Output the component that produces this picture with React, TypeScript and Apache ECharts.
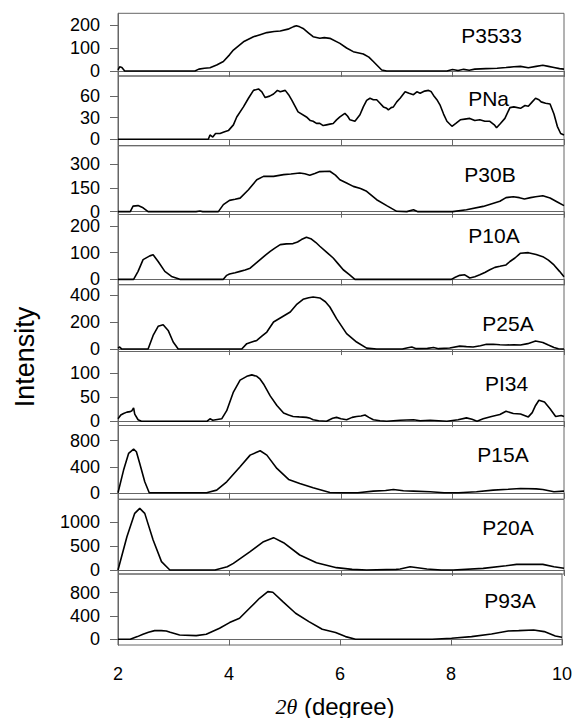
import React, { useEffect, useRef } from 'react';
import * as echarts from 'echarts';

// ---------- data ----------
const panelNames = ['P3533', 'PNa', 'P30B', 'P10A', 'P25A', 'PI34', 'P15A', 'P20A', 'P93A'];
const xTickLabels = [2, 4, 6, 8, 10];
const yTickValues = [
  [0, 100, 200],
  [0, 30, 60],
  [0, 150, 300],
  [0, 100, 200],
  [0, 200, 400],
  [0, 50, 100],
  [0, 400, 800],
  [0, 500, 1000],
  [0, 400, 800],
];
const yMins = [-22, -9, -18, -20, -18, -9, -100, -83, -98];
const yMaxs = [251, 88, 415, 243, 476, 146, 1034, 1473, 1121];

const p3533: [number, number][] = [
  [2.0, 5], [2.03, 18], [2.07, 15], [2.12, 0], [3.38, 0], [3.45, 8], [3.55, 12], [3.65, 14], [3.77, 26],
  [3.89, 41], [4.0, 70], [4.07, 91], [4.25, 127], [4.43, 149], [4.55, 158], [4.67, 167], [4.8, 172],
  [4.91, 174], [5.05, 182], [5.15, 193], [5.2, 197], [5.26, 192], [5.32, 185], [5.42, 165], [5.5, 149],
  [5.62, 142], [5.7, 145], [5.8, 142], [5.98, 120], [6.1, 100], [6.22, 84], [6.4, 74], [6.5, 60],
  [6.58, 41], [6.73, 4], [6.82, 0], [7.4, 0], [7.9, 0], [8.0, 6], [8.1, 2], [8.2, 7], [8.3, 3], [8.4, 8],
  [8.6, 10], [8.8, 12], [8.96, 15], [9.1, 18], [9.22, 20], [9.36, 14], [9.5, 20], [9.62, 25], [9.72, 20],
  [9.82, 15], [9.92, 10], [10, 8],
];
const pNa: [number, number][] = [
  [2, 0], [3.62, 0], [3.65, 6], [3.7, 3], [3.75, 8], [3.83, 8], [3.9, 10], [3.98, 12], [4.07, 20], [4.13, 31],
  [4.25, 45], [4.34, 57], [4.43, 68], [4.52, 70], [4.58, 66], [4.64, 58], [4.72, 60], [4.79, 63], [4.86, 68],
  [4.91, 66], [5.0, 68], [5.06, 62], [5.12, 54], [5.23, 38], [5.38, 31], [5.45, 26], [5.5, 25], [5.56, 22],
  [5.62, 22], [5.68, 19], [5.74, 20], [5.8, 21], [5.86, 22], [5.92, 27], [5.98, 31], [6.07, 36], [6.12, 32],
  [6.16, 27], [6.25, 25], [6.34, 34], [6.4, 45], [6.46, 54], [6.52, 57], [6.58, 55], [6.64, 55], [6.7, 50],
  [6.76, 45], [6.82, 43], [6.85, 41], [6.9, 44], [6.94, 45], [7.0, 52], [7.06, 57], [7.15, 66], [7.22, 64],
  [7.3, 62], [7.36, 66], [7.42, 64], [7.5, 67], [7.57, 68], [7.62, 66], [7.66, 61], [7.72, 55], [7.78, 47],
  [7.84, 35], [7.9, 25], [7.99, 18], [8.06, 22], [8.14, 27], [8.22, 28], [8.31, 29], [8.4, 26], [8.49, 27],
  [8.58, 25], [8.67, 25], [8.75, 20], [8.79, 16], [8.86, 22], [8.94, 29], [9.03, 44], [9.1, 45], [9.22, 43],
  [9.3, 47], [9.36, 46], [9.43, 52], [9.49, 57], [9.55, 55], [9.59, 52], [9.67, 50], [9.75, 49], [9.82, 35],
  [9.88, 18], [9.94, 8], [10, 6],
];
const p30B: [number, number][] = [
  [2, 0], [2.22, 0], [2.27, 35], [2.36, 38], [2.45, 24], [2.54, 0], [3.4, 0], [3.47, 4], [3.52, 0], [3.8, 0],
  [3.89, 44], [4.0, 71], [4.1, 78], [4.19, 85], [4.34, 138], [4.49, 201], [4.61, 222], [4.79, 222], [4.97, 233],
  [5.1, 237], [5.26, 243], [5.35, 238], [5.44, 229], [5.53, 240], [5.62, 252], [5.8, 254], [5.9, 230],
  [5.98, 201], [6.1, 180], [6.22, 159], [6.35, 145], [6.46, 128], [6.64, 75], [6.82, 38], [7.0, 2], [7.18, 0],
  [7.3, 12], [7.38, 0], [8.0, 0], [8.25, 12], [8.55, 33], [8.85, 65], [8.96, 88], [9.09, 94], [9.2, 88],
  [9.29, 80], [9.4, 88], [9.49, 94], [9.62, 100], [9.75, 86], [9.88, 61], [10, 38],
];
const p10A: [number, number][] = [
  [2, 0], [2.28, 0], [2.36, 30], [2.45, 74], [2.57, 88], [2.63, 92], [2.72, 67], [2.84, 30], [2.96, 11],
  [3.11, 0], [3.89, 0], [3.95, 15], [4.0, 20], [4.1, 25], [4.19, 30], [4.28, 35], [4.37, 42], [4.46, 58],
  [4.55, 74], [4.64, 90], [4.73, 105], [4.82, 118], [4.91, 130], [5.02, 133], [5.14, 134], [5.22, 140],
  [5.29, 149], [5.38, 158], [5.47, 151], [5.55, 138], [5.62, 124], [5.74, 102], [5.86, 80], [5.95, 58],
  [6.04, 36], [6.15, 18], [6.25, 0], [7.98, 0], [8.05, 8], [8.13, 15], [8.22, 17], [8.31, 5], [8.4, 10],
  [8.49, 17], [8.58, 26], [8.67, 36], [8.76, 45], [8.85, 49], [8.96, 54], [9.03, 67], [9.12, 80], [9.22, 98],
  [9.36, 100], [9.5, 93], [9.62, 85], [9.72, 72], [9.82, 54], [9.92, 30], [10, 10],
];
const p25A: [number, number][] = [
  [2, 8], [2.03, 15], [2.07, 0], [2.54, 0], [2.63, 101], [2.72, 168], [2.81, 180], [2.9, 138], [2.99, 52],
  [3.08, 0], [4.22, 0], [4.31, 40], [4.4, 52], [4.49, 64], [4.58, 95], [4.67, 126], [4.79, 200], [4.94, 237],
  [5.09, 274], [5.2, 328], [5.32, 368], [5.42, 380], [5.5, 385], [5.62, 378], [5.72, 350], [5.8, 311],
  [5.92, 225], [6.1, 114], [6.28, 52], [6.46, 7], [6.64, 0], [7.1, 0], [7.2, 10], [7.27, 15], [7.35, 3],
  [7.55, 5], [7.66, 12], [7.75, 3], [7.95, 8], [8.13, 22], [8.25, 18], [8.37, 15], [8.5, 25], [8.61, 35],
  [8.73, 36], [8.85, 32], [8.96, 30], [9.1, 32], [9.22, 30], [9.35, 40], [9.49, 59], [9.62, 49], [9.72, 30],
  [9.82, 12], [9.9, 2], [10, 0],
];
const pI34: [number, number][] = [
  [2, 5], [2.05, 13], [2.1, 16], [2.16, 19], [2.22, 20], [2.25, 22], [2.28, 28], [2.3, 15], [2.36, 3],
  [2.42, 0], [3.6, 0], [3.65, 5], [3.7, 2], [3.86, 5], [3.95, 22], [4.07, 61], [4.19, 86], [4.31, 94],
  [4.4, 97], [4.49, 94], [4.55, 88], [4.61, 78], [4.73, 53], [4.85, 33], [4.97, 17], [5.06, 13], [5.14, 10],
  [5.25, 9], [5.38, 8], [5.45, 6], [5.5, 3], [5.6, 1], [5.74, 0], [5.85, 6], [5.92, 8], [6.0, 5], [6.1, 3],
  [6.2, 8], [6.28, 10], [6.36, 11], [6.43, 13], [6.5, 8], [6.58, 3], [6.7, 1], [6.82, 0], [7.06, 2], [7.3, 3],
  [7.42, 1], [7.6, 2], [7.9, 0], [8.1, 3], [8.25, 7], [8.35, 4], [8.44, 0], [8.55, 5], [8.7, 10], [8.85, 14],
  [8.96, 21], [9.09, 16], [9.22, 15], [9.36, 9], [9.43, 18], [9.49, 33], [9.55, 44], [9.65, 40], [9.75, 26],
  [9.85, 10], [9.95, 12], [10, 10],
];
const p15A: [number, number][] = [
  [2, 0], [2.1, 349], [2.19, 605], [2.28, 672], [2.33, 631], [2.39, 451], [2.48, 169], [2.56, 0], [3.59, 0],
  [3.77, 41], [3.95, 169], [4.19, 400], [4.37, 579], [4.55, 646], [4.67, 579], [4.85, 374], [5.06, 205],
  [5.26, 144], [5.5, 77], [5.8, 5], [6.0, 0], [6.3, 0], [6.58, 26], [6.8, 35], [6.94, 51], [7.12, 31],
  [7.3, 26], [7.6, 15], [7.85, 0], [8.11, 0], [8.43, 15], [8.73, 41], [9.0, 55], [9.22, 67], [9.5, 60],
  [9.62, 51], [9.82, 15], [10, 26],
];
const p20A: [number, number][] = [
  [2, 0], [2.16, 694], [2.3, 1180], [2.39, 1285], [2.48, 1180], [2.63, 625], [2.78, 174], [2.93, 0],
  [3.74, 0], [3.96, 69], [4.07, 139], [4.37, 382], [4.61, 590], [4.79, 674], [4.97, 569], [5.26, 313],
  [5.56, 153], [5.92, 49], [6.2, 14], [6.46, 0], [6.99, 14], [7.06, 21], [7.24, 69], [7.54, 21], [7.8, 0],
  [8.01, 0], [8.55, 35], [8.96, 90], [9.15, 118], [9.36, 118], [9.62, 118], [9.82, 69], [10, 35],
];
const p93A: [number, number][] = [
  [2, 0], [2.22, 0], [2.35, 46], [2.45, 86], [2.55, 120], [2.66, 149], [2.78, 149], [2.87, 143], [2.94, 120],
  [3.11, 74], [3.41, 63], [3.59, 86], [3.83, 189], [4.01, 287], [4.19, 361], [4.37, 533], [4.55, 704],
  [4.7, 818], [4.79, 807], [4.97, 647], [5.2, 447], [5.44, 303], [5.68, 172], [5.92, 115], [6.1, 46],
  [6.28, 0], [7.66, 0], [8.01, 17], [8.37, 46], [8.73, 92], [9.03, 143], [9.22, 149], [9.49, 160],
  [9.68, 132], [9.88, 57], [10, 34],
];
const seriesData = [p3533, pNa, p30B, p10A, p25A, pI34, p15A, p20A, p93A];

// ---------- layout ----------
const W = 575;
const H = 718;
const PLOT_LEFT = 118;
const PLOT_RIGHT = 564;
const PANEL_EDGES = [13.3, 76, 145.7, 214.5, 284.7, 351.5, 425.5, 499.3, 574, 645];
const LABEL_POS: [number, number][] = [
  [491.6, 35], [488.6, 98], [490, 174], [494, 235], [508, 323], [506.6, 383], [503, 454], [508, 527], [510, 600],
];
const FONT = '"Liberation Sans", Arial, sans-serif';
const AXIS_COLOR = '#666';

export default function App() {
  const ref = useRef<HTMLDivElement>(null);
  useEffect(() => {
    document.body.style.margin = '0';
    if (!ref.current) return;
    const chart = echarts.init(ref.current, undefined, { renderer: 'svg' });
    const n = panelNames.length;
    const grid = [] as any[];
    const xAxis = [] as any[];
    const yAxis = [] as any[];
    const series = [] as any[];
    const graphic = [] as any[];
    for (let i = 0; i < n; i++) {
      const top = PANEL_EDGES[i];
      const h = PANEL_EDGES[i + 1] - top;
      grid.push({
        left: PLOT_LEFT,
        width: PLOT_RIGHT - PLOT_LEFT,
        top,
        height: h,
        show: true,
        borderColor: AXIS_COLOR,
        borderWidth: 1,
        backgroundColor: 'transparent',
      });
      const last = i === n - 1;
      xAxis.push({
        type: 'value',
        gridIndex: i,
        min: xTickLabels[0],
        max: xTickLabels[xTickLabels.length - 1],
        interval: 2,
        axisLine: { show: true, lineStyle: { color: AXIS_COLOR, width: 1 } },
        axisTick: { show: true, inside: false, length: 6, lineStyle: { color: AXIS_COLOR } },
        axisLabel: {
          show: last,
          fontSize: 18,
          fontFamily: FONT,
          color: '#000',
          margin: 20,
          formatter: (v: number) => String(v),
        },
        splitLine: { show: false },
      });
      yAxis.push({
        type: 'value',
        gridIndex: i,
        min: yMins[i],
        max: yMaxs[i],
        axisLine: { show: true, lineStyle: { color: AXIS_COLOR, width: 1 } },
        axisTick: {
          show: true,
          inside: false,
          length: 8,
          customValues: yTickValues[i],
          lineStyle: { color: AXIS_COLOR },
        },
        axisLabel: {
          show: true,
          customValues: yTickValues[i],
          fontSize: 18,
          fontFamily: FONT,
          color: '#000',
          margin: 18,
          formatter: (v: number) => String(v),
        },
        splitLine: { show: false },
      });
      series.push({
        type: 'line',
        xAxisIndex: i,
        yAxisIndex: i,
        data: seriesData[i],
        showSymbol: false,
        symbol: 'none',
        lineStyle: { color: '#000', width: 1.6 },
        clip: true,
        silent: true,
      });
      graphic.push({
        type: 'text',
        x: LABEL_POS[i][0],
        y: LABEL_POS[i][1],
        style: {
          text: panelNames[i],
          fontSize: 21,
          fontFamily: FONT,
          fill: '#000',
          align: 'center',
          verticalAlign: 'middle',
        },
      });
    }
    graphic.push({
      type: 'text',
      x: 25,
      y: 357,
      rotation: Math.PI / 2,
      style: {
        text: 'Intensity',
        fontSize: 27,
        fontFamily: FONT,
        fill: '#000',
        align: 'center',
        verticalAlign: 'middle',
      },
    });
    graphic.push({
      type: 'text',
      x: 335,
      y: 706,
      style: {
        text: '{i|2θ} (degree)',
        fontSize: 24,
        fontFamily: FONT,
        fill: '#000',
        align: 'center',
        verticalAlign: 'middle',
        rich: {
          i: {
            fontSize: 22,
            fontStyle: 'italic',
            fontFamily: '"Liberation Serif", "DejaVu Serif", serif',
            fill: '#000',
          },
        },
      },
    });
    chart.setOption({
      animation: false,
      backgroundColor: '#fff',
      grid,
      xAxis,
      yAxis,
      series,
      graphic,
    });
    return () => chart.dispose();
  }, []);
  return <div ref={ref} style={{ width: W, height: H }} />;
}
